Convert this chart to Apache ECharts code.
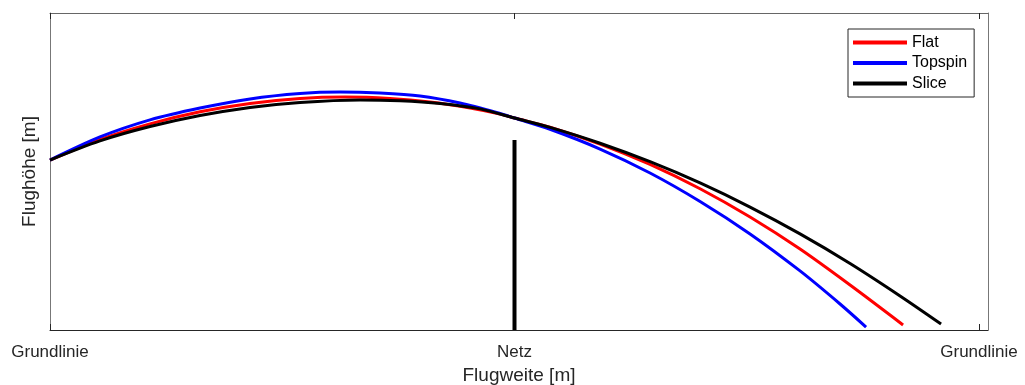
<!DOCTYPE html>
<html>
<head>
<meta charset="utf-8">
<script src="https://cdn.jsdelivr.net/npm/echarts@6/dist/echarts.min.js"></script>
<style>
html, body { margin: 0; padding: 0; background: #fff; }
#chart { width: 1025px; height: 385px; }
</style>
</head>
<body>
<div id="chart"></div>
<script>
// Flugbahnen, x = Flugweite [m], y = Flughöhe [m]
var flatX = [0, 1.279, 2.559, 3.838, 5.118, 6.397, 7.549, 8.700, 9.724, 10.747, 11.515, 11.885, 12.794, 14.074, 15.353, 16.633, 17.912, 19.191, 20.471, 21.827];
var flatY = [0.817, 0.916, 0.991, 1.049, 1.089, 1.113, 1.120, 1.113, 1.096, 1.067, 1.038, 1.019, 0.975, 0.894, 0.796, 0.679, 0.543, 0.389, 0.216, 0.024];

var topX = [0, 1.279, 2.559, 3.838, 5.118, 6.397, 7.421, 8.444, 9.468, 10.491, 11.515, 11.885, 12.794, 14.074, 15.353, 16.633, 17.912, 19.191, 20.215, 20.880];
var topY = [0.817, 0.928, 1.010, 1.067, 1.111, 1.137, 1.144, 1.139, 1.125, 1.091, 1.041, 1.019, 0.965, 0.870, 0.755, 0.618, 0.462, 0.284, 0.125, 0.014];

var sliceX = [0, 1.279, 2.559, 3.838, 5.118, 6.397, 7.932, 8.956, 9.980, 11.003, 11.885, 12.794, 14.074, 15.353, 16.633, 17.912, 19.191, 20.471, 21.750, 22.799];
var sliceY = [0.817, 0.909, 0.978, 1.031, 1.070, 1.094, 1.106, 1.102, 1.089, 1.063, 1.019, 0.974, 0.898, 0.809, 0.707, 0.591, 0.462, 0.320, 0.164, 0.029];

var netX = 11.885;
var netHeight = 0.913;

var tickValues = [0, 11.885, 23.77];
var tickLabels = ['Grundlinie', 'Netz', 'Grundlinie'];

function pairs(xs, ys) {
    return xs.map(function (x, i) { return [x, ys[i]]; });
}

var chart = echarts.init(document.getElementById('chart'));
var font = '"Liberation Sans", Arial, sans-serif';

var option = {
    animation: false,
    backgroundColor: '#fff',
    grid: {left: 50, right: 37, top: 13, bottom: 55, outerBoundsMode: 'none', containLabel: false},
    legend: {
        data: ['Flat', 'Topspin', 'Slice'],
        orient: 'vertical',
        left: 848, top: 29,
        padding: [5, 7, 5, 5],
        itemGap: 3.5,
        itemWidth: 54, itemHeight: 4,
        icon: 'rect',
        borderColor: '#262626', borderWidth: 1,
        backgroundColor: '#fff',
        textStyle: {fontFamily: font, fontSize: 16, color: '#000', lineHeight: 17}
    },
    xAxis: [{
        type: 'value', min: 0, max: 24,
        name: 'Flugweite [m]', nameLocation: 'middle', nameGap: 36,
        nameTextStyle: {fontFamily: font, fontSize: 19, color: '#262626'},
        axisLine: {show: true, onZero: false, lineStyle: {color: '#262626', width: 1}},
        axisTick: {show: true, inside: true, length: 6, customValues: tickValues, lineStyle: {color: '#262626'}},
        axisLabel: {
            customValues: tickValues, margin: 14,
            fontFamily: font, fontSize: 17, color: '#262626',
            formatter: function (v) {
                var i = tickValues.indexOf(v);
                return i >= 0 ? tickLabels[i] : '';
            }
        },
        splitLine: {show: false}
    }, {
        type: 'value', min: 0, max: 24, position: 'top',
        axisLine: {show: true, onZero: false, lineStyle: {color: '#666', width: 1}},
        axisTick: {show: true, inside: true, length: 6, customValues: tickValues, lineStyle: {color: '#262626'}},
        axisLabel: {show: false},
        splitLine: {show: false}
    }],
    yAxis: [{
        type: 'value', min: 0, max: 1.524,
        name: 'Flughöhe [m]', nameLocation: 'middle', nameGap: 11,
        nameTextStyle: {fontFamily: font, fontSize: 19, color: '#262626'},
        axisLine: {show: true, onZero: false, lineStyle: {color: '#777', width: 1}},
        axisTick: {show: false}, axisLabel: {show: false},
        splitLine: {show: false}
    }, {
        type: 'value', min: 0, max: 1.524, position: 'right',
        axisLine: {show: true, onZero: false, lineStyle: {color: '#777', width: 1}},
        axisTick: {show: false}, axisLabel: {show: false},
        splitLine: {show: false}
    }],
    series: [{
        name: 'Netz', type: 'line', data: [[netX, 0], [netX, netHeight]],
        symbol: 'none', lineStyle: {color: '#000', width: 4}, z: 1
    }, {
        name: 'Flat', type: 'line', data: pairs(flatX, flatY), smooth: 0.3,
        symbol: 'none', color: '#ff0000', lineStyle: {color: '#ff0000', width: 3}
    }, {
        name: 'Topspin', type: 'line', data: pairs(topX, topY), smooth: 0.3,
        symbol: 'none', color: '#0000ff', lineStyle: {color: '#0000ff', width: 3}
    }, {
        name: 'Slice', type: 'line', data: pairs(sliceX, sliceY), smooth: 0.3,
        symbol: 'none', color: '#000', lineStyle: {color: '#000', width: 3}
    }]
};

chart.setOption(option);
</script>
</body>
</html>
